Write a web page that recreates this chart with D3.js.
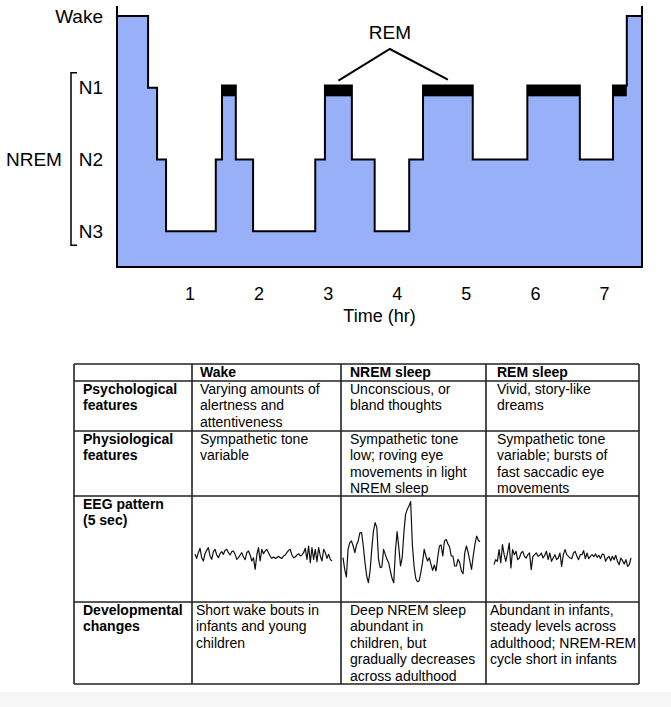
<!DOCTYPE html>
<html>
<head>
<meta charset="utf-8">
<script src="https://cdn.jsdelivr.net/npm/d3@7"></script>
<style>
  body { margin: 0; background: #fff; }
  svg { display: block; font-family: "Liberation Sans", Arial, sans-serif; }
</style>
</head>
<body>
<div id="vis"></div>
<script>
// ---- hypnogram data (hours) ----
const tStart = -0.05;
const epochEnds = [0.40, 0.53, 0.66, 1.38, 1.47, 1.67, 1.92, 2.82, 2.96, 3.35, 3.68, 4.18, 4.38, 5.10, 5.89, 6.65, 7.13, 7.33, 7.55];
const epochStages = ["Wake", "N1", "N2", "N3", "N2", "REM", "N2", "N3", "N2", "REM", "N2", "N3", "N2", "REM", "N2", "REM", "N2", "REM", "Wake"];
const stageLabels = ["Wake", "N1", "N2", "N3"];
const hourTicks = [1, 2, 3, 4, 5, 6, 7];

// ---- table data ----
const colHeads = ["", "Wake", "NREM sleep", "REM sleep"];
const rowHeads = [["Psychological", "features"], ["Physiological", "features"], ["EEG pattern", "(5 sec)"], ["Developmental", "changes"]];
const psychological = [
    ["Varying amounts of", "alertness and", "attentiveness"],
    ["Unconscious, or", "bland thoughts"],
    ["Vivid, story-like", "dreams"]
];
const physiological = [
    ["Sympathetic tone", "variable"],
    ["Sympathetic tone", "low; roving eye", "movements in light", "NREM sleep"],
    ["Sympathetic tone", "variable; bursts of", "fast saccadic eye", "movements"]
];
const developmental = [
    ["Short wake bouts in", "infants and young", "children"],
    ["Deep NREM sleep", "abundant in", "children, but", "gradually decreases", "across adulthood"],
    ["Abundant in infants,", "steady levels across", "adulthood; NREM-REM", "cycle short in infants"]
];

// EEG traces, 5 s each, amplitude in arbitrary units (up = positive)
const eegWake = [2, -10, 7, 20, -8, -18, 4, 14, 22, -3, -13, 10, 17, 0, -8, 4, 10, 2, 14, 17, 7, 0, 10, 12, 2, -13, -8, 0, 7, -6,
    -14, 7, 12, 0, -18, -8, -43, 0, 22, -18, 17, 4, 12, 17, 7, -4, -10, -6, -10, -8, -4, -8, -10, -3, 0, 7, 14, 17, 0, -8,
    -6, 0, 4, -3, 0, 7, 20, -13, 27, -23, 22, -13, 17, -20, 22, -3, -18, 17, 7, -10, 2, -13, -18];
const eegNrem = [-20, -55, -78, 5, 25, 30, 15, -5, 18, 30, 55, 55, 15, -35, -75, -95, -60, 5, 60, 85, 70, -25, -50, -48, 5, -10,
    -25, -35, -60, -82, -95, 0, 58, 10, -45, -20, 55, 110, 125, 135, 148, 20, -45, -82, -92, -90, -65, -35, 5, -15, -30, -20,
    -40, -58, -42, -60, -20, 15, 18, -15, 30, 35, 22, 12, -15, -15, -45, -45, -25, -35, -60, -68, -5, 15, -5, -30, -55, -15,
    20, 45, 32, 28];
const eegRem = [-20, -5, -10, 25, -15, 40, 10, -10, 15, 45, -30, 25, 10, 20, -5, 0, 15, 20, 5, 0, 10, 15, -35, 5, 10, 15, 5,
    8, 15, 0, 8, 20, -5, 15, -10, 0, 10, -5, 0, 15, -25, 10, 25, 10, 5, 0, -2, 15, 20, 5, -5, 10, 10, 22, -2, 15, -2, 5, 10,
    4, 12, 2, 8, -2, 12, 10, -10, 0, 5, -8, 5, -5, 8, -10, -20, 0, -8, -18, -5, -25, -20, 0];

const blue = "#98b0f8";
const svg = d3.select("#vis").append("svg")
    .attr("width", 671)
    .attr("height", 707);

// ---------- hypnogram ----------
const levelOf = s => s === "REM" ? 0.97 : stageLabels.indexOf(s);
const x = d3.scaleLinear().domain([tStart, 7.55]).range([117, 642]);
const y = d3.scaleLinear().domain([0, 3.5]).range([16, 267]);

const epochs = epochStages.map((s, i) => ({
    stage: s,
    start: i === 0 ? tStart : epochEnds[i - 1],
    end: epochEnds[i],
    lvl: levelOf(s)
}));
const steps = epochs.map(e => ({ t: e.start, lvl: e.lvl }));
steps.push({ t: epochs.at(-1).end, lvl: epochs.at(-1).lvl });

const area = d3.area()
    .curve(d3.curveStepAfter)
    .x(d => x(d.t))
    .y0(y(3.5))
    .y1(d => y(d.lvl));

svg.append("path")
    .datum(steps)
    .attr("fill", blue)
    .attr("d", area);

svg.selectAll(".rem")
    .data(epochs.filter(e => e.stage === "REM"))
    .enter()
    .append("rect")
    .attr("x", d => x(d.start))
    .attr("width", d => x(d.end) - x(d.start))
    .attr("y", d => y(d.lvl))
    .attr("height", y(1.12) - y(0.97))
    .attr("fill", "#000");

svg.append("path")
    .datum(steps)
    .attr("fill", "none")
    .attr("stroke", "#000")
    .attr("stroke-width", 2)
    .attr("d", area);

// axis lines poking up beyond wake level
[tStart, epochEnds.at(-1)].forEach(t => {
    svg.append("line")
        .attr("x1", x(t)).attr("x2", x(t))
        .attr("y1", y(0) - 10).attr("y2", y(3.5))
        .attr("stroke", "#000")
        .attr("stroke-width", 2);
});

// stage labels
svg.selectAll(".stage")
    .data(stageLabels)
    .enter()
    .append("text")
    .attr("x", 103)
    .attr("y", (d, i) => y(i))
    .attr("dy", "0.35em")
    .attr("text-anchor", "end")
    .style("font-size", "19px")
    .text(d => d);

svg.append("text")
    .attr("x", 6)
    .attr("y", y(2))
    .attr("dy", "0.35em")
    .style("font-size", "19px")
    .text("NREM");

svg.append("path")
    .attr("d", `M77,${y(1) - 15}H71V${y(3) + 14}H77`)
    .attr("fill", "none")
    .attr("stroke", "#000")
    .attr("stroke-width", 1.5);

// REM annotation
const remEpochs = epochs.filter(e => e.stage === "REM");
const remMid = e => x((e.start + e.end) / 2);
const apexX = x(3.9), apexY = y(0) + 33;
svg.append("path")
    .attr("d", `M${remMid(remEpochs[1])},${y(0.97) - 5}L${apexX},${apexY}L${remMid(remEpochs[2])},${y(0.97) - 6}`)
    .attr("fill", "none")
    .attr("stroke", "#000")
    .attr("stroke-width", 2);
svg.append("text")
    .attr("x", apexX)
    .attr("y", apexY - 10)
    .attr("text-anchor", "middle")
    .style("font-size", "19px")
    .text("REM");

// x axis
const xAxis = svg.append("g")
    .attr("transform", `translate(0,${y(3.5)})`)
    .call(d3.axisBottom(x).tickValues(hourTicks).tickSize(0).tickPadding(20));
xAxis.select(".domain").remove();
xAxis.selectAll("text")
    .style("font-size", "18px")
    .style("font-family", "'Liberation Sans', Arial, sans-serif")
    .attr("fill", "#000");

svg.append("text")
    .attr("x", (x.range()[0] + x.range()[1]) / 2)
    .attr("y", 322)
    .attr("text-anchor", "middle")
    .style("font-size", "18px")
    .text("Time (hr)");

// ---------- table ----------
svg.append("rect")
    .attr("x", 0).attr("y", 692).attr("width", 671).attr("height", 15)
    .attr("fill", "#f6f6f6");

const colX = [74, 192, 341, 486, 639];
const rowY = [364, 381, 431, 496, 602, 684];
const pad = [[9, 8, 9, 11], [9, 8, 9, 11], [9, 8, 9, 11], [9, 8, 9, 11], [9, 4, 9, 4]];

const table = svg.append("g");
colX.forEach(cx => table.append("line")
    .attr("x1", cx).attr("x2", cx).attr("y1", rowY[0]).attr("y2", rowY.at(-1)));
rowY.forEach(ry => table.append("line")
    .attr("x1", colX[0]).attr("x2", colX.at(-1)).attr("y1", ry).attr("y2", ry));
table.selectAll("line")
    .attr("stroke", "#222")
    .attr("stroke-width", 1.6);

const cells = [];
colHeads.forEach((h, c) => cells.push({ r: 0, c, lines: [h], bold: true }));
rowHeads.forEach((h, r) => cells.push({ r: r + 1, c: 0, lines: h, bold: true }));
[psychological, physiological, null, developmental].forEach((row, r) => {
    if (!row) return;
    row.forEach((lines, c) => cells.push({ r: r + 1, c: c + 1, lines, bold: false }));
});

cells.forEach(cell => {
    const t = table.append("text")
        .attr("x", colX[cell.c] + pad[cell.r][cell.c])
        .attr("y", rowY[cell.r] + 12.5)
        .style("font-size", "14px")
        .style("font-weight", cell.bold ? "bold" : "normal");
    cell.lines.forEach((ln, i) => {
        t.append("tspan")
            .attr("x", colX[cell.c] + pad[cell.r][cell.c])
            .attr("dy", i === 0 ? 0 : 16.5)
            .text(ln);
    });
});

// EEG traces
const eegAmp = d3.scaleLinear().domain([-60, 60]).range([20, -20]);
const traceStart = [195, 343, 494];
[eegWake, eegNrem, eegRem].forEach((trace, i) => {
    const tx = d3.scaleLinear().domain([0, trace.length - 1]).range([traceStart[i], traceStart[i] + 137]);
    const cy = rowY[3] + 60 - [1, 5, -2][i];
    table.append("path")
        .datum(trace)
        .attr("fill", "none")
        .attr("stroke", "#111")
        .attr("stroke-width", 1.2)
        .attr("stroke-linejoin", "round")
        .attr("d", d3.line().x((d, j) => tx(j)).y(d => cy + eegAmp(d)));
});
</script>
</body>
</html>
